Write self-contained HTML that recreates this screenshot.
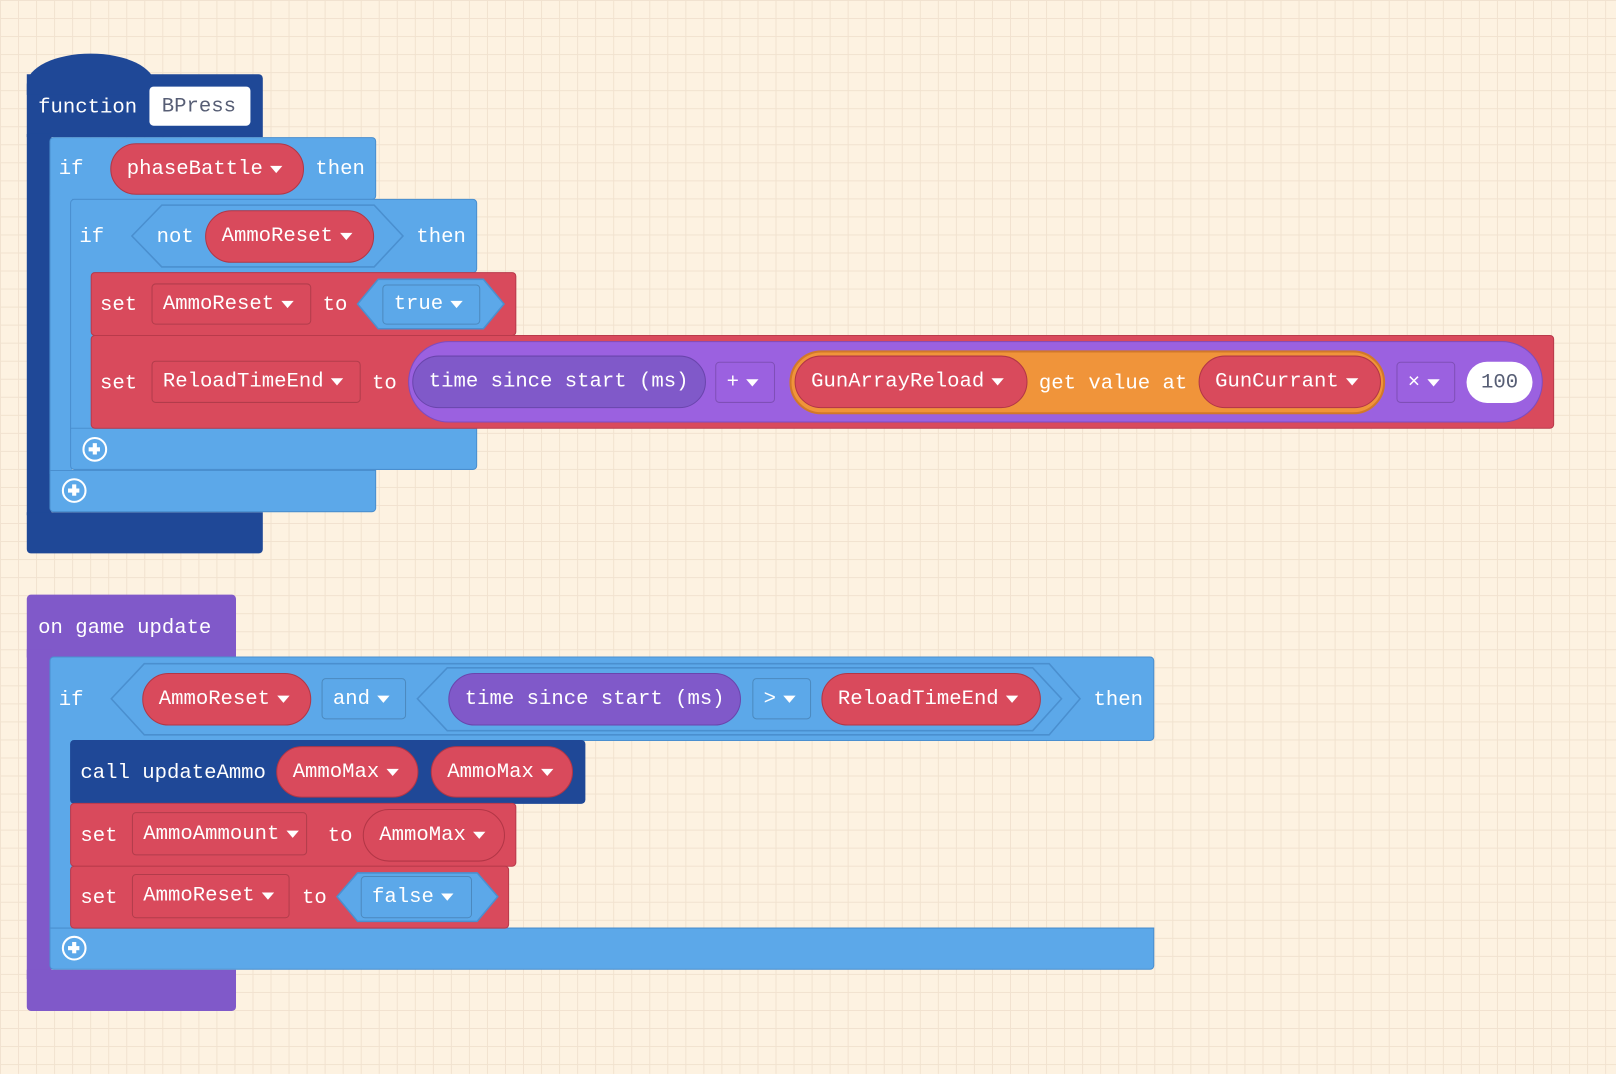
<!DOCTYPE html>
<html><head><meta charset="utf-8"><style>
html,body{margin:0;padding:0;width:1616px;height:1074px;overflow:hidden;background:#fdf2e1;}
#w{position:absolute;left:0;top:0;width:1568px;height:1042px;transform:scale(1.0306);transform-origin:0 0;
background-color:#fdf2e1;
background-image:linear-gradient(#f1e2cf 1px,transparent 1px),linear-gradient(90deg,#f1e2cf 1px,transparent 1px);
background-size:17.5px 17.5px;font-family:"Liberation Mono",monospace;}
.b{position:absolute;box-sizing:border-box;}
.db{background:#1f4897;}
.lb{background:#5ca8e9;border:1px solid #4a8fcf;}
.rd{background:#d94a5c;border:1px solid #b93a4b;}
.pu{background:#8059c9;}
.p{position:absolute;box-sizing:border-box;display:flex;align-items:center;color:#fff;font-size:20px;white-space:pre;}
.pill{border-radius:30px;padding-left:15px;background:#d94a5c;border:1px solid #b23646;}
.box{border-radius:4px;padding-left:10px;border:1px solid rgba(0,0,0,.18);}
.t{position:absolute;color:#fff;font-size:20px;line-height:24px;white-space:pre;margin-top:2px;}
.dd{display:inline-block;width:0;height:0;border-left:6px solid transparent;border-right:6px solid transparent;border-top:7px solid #fff;margin-left:7px;}
.plus{position:absolute;width:24px;height:24px;border:2.5px solid #fff;border-radius:50%;box-sizing:border-box;}
.plus:before{content:"";position:absolute;left:4px;top:8px;width:11px;height:4px;background:#fff;}
.plus:after{content:"";position:absolute;left:8px;top:4px;width:4px;height:11px;background:#fff;}
svg{position:absolute;left:0;top:0;}
</style></head><body><div id="w">

<div class="b db" style="left:26px;top:72px;width:229px;height:61px;border-radius:0 4px 0 0"></div>
<div class="b db" style="left:26px;top:52px;width:124px;height:40px;border-radius:62px 62px 0 0/30px 30px 0 0"></div>
<div class="b db" style="left:26px;top:130px;width:24px;height:370px"></div>
<div class="b db" style="left:26px;top:497px;width:229px;height:40px;border-radius:0 0 4px 4px"></div>
<div class="t" style="left:37px;top:91px">function</div>
<div class="p" style="left:145px;top:84px;width:98px;height:38px;background:#fff;border-radius:4px;color:#575e75;padding-left:12px">BPress</div>

<div class="b lb" style="left:48px;top:133px;width:317px;height:61px;border-radius:4px"></div>
<div class="b lb" style="left:48px;top:190px;width:22px;height:270px;border-width:0 0 0 1px"></div>
<div class="b lb" style="left:48px;top:456px;width:317px;height:41px;border-radius:0 0 4px 4px"></div>
<div class="t" style="left:57px;top:151px">if</div>
<div class="p pill" style="left:107px;top:139px;width:188px;height:50px">phaseBattle<span class="dd"></span></div>
<div class="t" style="left:306px;top:151px">then</div>

<div class="b lb" style="left:68px;top:193px;width:395px;height:72px;border-radius:4px"></div>
<div class="b lb" style="left:68px;top:260px;width:22px;height:160px;border-width:0 0 0 1px"></div>
<div class="b lb" style="left:68px;top:415px;width:395px;height:41px;border-radius:0 0 4px 4px"></div>
<div class="t" style="left:77px;top:217px">if</div>
<svg width="1568" height="1042">
<polygon points="157,199 363,199 391,229 363,259 157,259 128,229" fill="#5ca8e9" stroke="#4a8fcf" stroke-width="1.5"/>
</svg>
<div class="t" style="left:152px;top:217px">not</div>
<div class="p pill" style="left:199px;top:204px;width:164px;height:51px">AmmoReset<span class="dd"></span></div>
<div class="t" style="left:404px;top:217px">then</div>

<div class="b rd" style="left:88px;top:264px;width:413px;height:62px;border-radius:4px"></div>
<div class="t" style="left:97px;top:283px">set</div>
<div class="p box" style="left:147px;top:275px;width:155px;height:40px">AmmoReset<span class="dd"></span></div>
<div class="t" style="left:313px;top:283px">to</div>
<svg width="1568" height="1042">
<polygon points="367,271 469,271 489,295 469,319 367,319 347,295" fill="#5ca8e9" stroke="#4a8fcf" stroke-width="1.5"/>
</svg>
<div class="p box" style="left:371px;top:276px;width:95px;height:39px">true<span class="dd"></span></div>

<div class="b rd" style="left:88px;top:325px;width:1420px;height:91px;border-radius:4px"></div>
<div class="t" style="left:97px;top:359px">set</div>
<div class="p box" style="left:147px;top:350px;width:203px;height:41px">ReloadTimeEnd<span class="dd"></span></div>
<div class="t" style="left:361px;top:359px">to</div>
<div class="b" style="left:396px;top:331px;width:1101px;height:79px;border-radius:40px;background:#9b61e0;border:1px solid #7d4cc0"></div>
<div class="p pill" style="left:400px;top:345px;width:285px;height:51px;background:#8059c9;border-color:#6a45ad">time since start (ms)</div>
<div class="p box" style="left:694px;top:351px;width:58px;height:40px">+<span class="dd"></span></div>
<div class="b" style="left:766px;top:340px;width:578px;height:62px;border-radius:31px;background:#f0943a;border:2px solid #d2782a"></div>
<div class="p pill" style="left:771px;top:345px;width:226px;height:51px">GunArrayReload<span class="dd"></span></div>
<div class="t" style="left:1008px;top:359px">get value at</div>
<div class="p pill" style="left:1163px;top:345px;width:177px;height:51px">GunCurrant<span class="dd"></span></div>
<div class="p box" style="left:1355px;top:351px;width:57px;height:40px">×<span class="dd"></span></div>
<div class="p" style="left:1423px;top:351px;width:64px;height:40px;background:#fff;border-radius:20px;color:#575e75;padding-left:14px">100</div>

<div class="plus" style="left:80px;top:424px"></div>
<div class="plus" style="left:60px;top:464px"></div>

<div class="b pu" style="left:26px;top:577px;width:203px;height:61px;border-radius:4px 4px 0 0"></div>
<div class="b pu" style="left:26px;top:630px;width:24px;height:320px"></div>
<div class="b pu" style="left:26px;top:941px;width:203px;height:40px;border-radius:0 0 4px 4px"></div>
<div class="t" style="left:37px;top:596px">on game update</div>

<div class="b lb" style="left:48px;top:637px;width:1072px;height:82px;border-radius:4px"></div>
<div class="b lb" style="left:48px;top:714px;width:22px;height:190px;border-width:0 0 0 1px"></div>
<div class="b lb" style="left:48px;top:900px;width:1072px;height:41px;border-radius:0 0 4px 4px"></div>
<div class="t" style="left:57px;top:666px">if</div>
<svg width="1568" height="1042">
<polygon points="140,644 1018,644 1048,678 1018,713 140,713 108,678" fill="#5ca8e9" stroke="#4a8fcf" stroke-width="1.5"/>
<polygon points="434,648 1002,648 1030,678 1002,709 434,709 405,678" fill="#5ca8e9" stroke="#4a8fcf" stroke-width="1.5"/>
</svg>
<div class="p pill" style="left:138px;top:653px;width:164px;height:51px">AmmoReset<span class="dd"></span></div>
<div class="p box" style="left:312px;top:658px;width:82px;height:40px">and<span class="dd"></span></div>
<div class="p pill" style="left:435px;top:653px;width:284px;height:51px;background:#8059c9;border-color:#6a45ad">time since start (ms)</div>
<div class="p box" style="left:730px;top:658px;width:57px;height:40px">&gt;<span class="dd"></span></div>
<div class="p pill" style="left:797px;top:653px;width:213px;height:51px">ReloadTimeEnd<span class="dd"></span></div>
<div class="t" style="left:1061px;top:666px">then</div>

<div class="b db" style="left:68px;top:718px;width:500px;height:62px;border-radius:4px"></div>
<div class="t" style="left:78px;top:737px">call updateAmmo</div>
<div class="p pill" style="left:268px;top:724px;width:138px;height:50px">AmmoMax<span class="dd"></span></div>
<div class="p pill" style="left:418px;top:724px;width:138px;height:50px">AmmoMax<span class="dd"></span></div>

<div class="b rd" style="left:68px;top:779px;width:433px;height:62px;border-radius:4px"></div>
<div class="t" style="left:78px;top:798px">set</div>
<div class="p box" style="left:128px;top:788px;width:170px;height:42px">AmmoAmmount<span class="dd"></span></div>
<div class="t" style="left:318px;top:798px">to</div>
<div class="p pill" style="left:352px;top:785px;width:138px;height:51px">AmmoMax<span class="dd"></span></div>

<div class="b rd" style="left:68px;top:840px;width:426px;height:61px;border-radius:4px"></div>
<div class="t" style="left:78px;top:858px">set</div>
<div class="p box" style="left:128px;top:848px;width:153px;height:43px">AmmoReset<span class="dd"></span></div>
<div class="t" style="left:293px;top:858px">to</div>
<svg width="1568" height="1042">
<polygon points="347,847 463,847 483,870 463,894 347,894 327,870" fill="#5ca8e9" stroke="#4a8fcf" stroke-width="1.5"/>
</svg>
<div class="p box" style="left:350px;top:850px;width:108px;height:41px">false<span class="dd"></span></div>

<div class="plus" style="left:60px;top:908px"></div>

</div></body></html>
